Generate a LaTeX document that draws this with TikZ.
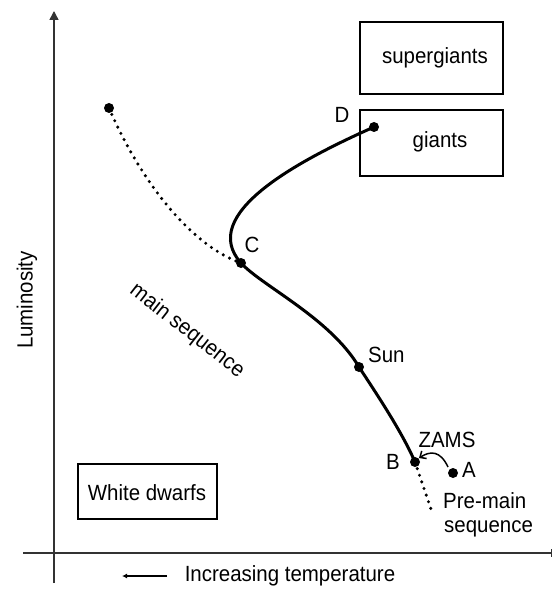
\documentclass[tikz,border=0pt]{standalone}
\usepackage{fontspec}
\setmainfont[FakeStretch=0.93]{Liberation Sans}
\usetikzlibrary{arrows.meta}
\tikzset{
  lbl/.style={inner sep=0pt, font=\fontsize{22}{25}\selectfont},
  boxed/.style={draw, line width=1.4pt},
  axisline/.style={line width=1.5pt, draw=black!80},
  track/.style={line width=3pt, line cap=round},
  dotted track/.style={line width=3.4pt, line cap=round, dash pattern=on 0pt off 7pt},
  stardot/.style={fill=black},
}
\begin{document}
\begin{tikzpicture}[x=1pt,y=-1pt]
\useasboundingbox (0,0) rectangle (553,596);
% axes
\coordinate (ybot) at (54,583);
\coordinate (ytop) at (54,11);
\coordinate (xleft) at (23,553);
\coordinate (xright) at (552,553);
\draw[axisline, -{Triangle[length=9pt,width=9pt]}] (ybot) -- (ytop);
\draw[axisline, -{Bar[width=8pt]}] (xleft) -- (xright);
% axis labels
\node[lbl, rotate=90] (lum) at (27,300) {Luminosity};
\node[lbl] (temp) at (290,576) {Increasing temperature};
\coordinate (ta) at (167,576);
\coordinate (tb) at (122,576);
\draw[line width=1.2pt, -{Latex[length=5pt,width=5pt]}] (ta) -- (tb);
% boxes
\node[boxed, minimum width=143pt, minimum height=72pt] (sgbox) at (431.5,58) {};
\node[lbl] (sg) at (435,58) {supergiants};
\node[boxed, minimum width=143pt, minimum height=66pt] (gbox) at (431.5,143) {};
\node[lbl] (g) at (440,142) {giants};
\node[boxed, minimum width=139pt, minimum height=55pt] (wdbox) at (147.5,491.5) {};
\node[lbl] (wd) at (147,493) {White dwarfs};
% points
\coordinate (start) at (109,108);
\coordinate (C) at (241,263);
\coordinate (D) at (374,127);
\coordinate (Sun) at (359,367);
\coordinate (B) at (415,462);
\coordinate (A) at (453,473);
\coordinate (tail) at (432,512);
% main sequence dotted
\draw[dotted track] (start) .. controls (140,180) and (190,245) .. (C);
\draw[dotted track] (B) -- (tail);
% evolutionary track
\draw[track] (D) .. controls (295,162) and (198,215) .. (C)
  .. controls (262,286) and (330,318) .. (Sun)
  .. controls (378,396) and (402,432) .. (B);
% ZAMS arrow
\draw[line width=1.5pt, -{Straight Barb[length=5pt,width=9pt]}] (A) ++(-5,-6) .. controls (440,450) and (430,451) .. (419,458);
% dots
\foreach \p in {start,C,D,Sun,B,A} \fill[stardot] (\p) circle (5);
% labels
\node[lbl] (Clbl) at (252,245) {C};
\node[lbl] (Dlbl) at (342,115) {D};
\node[lbl, anchor=west] (Sunlbl) at (368,355) {Sun};
\node[lbl] (Blbl) at (393,462) {B};
\node[lbl] (Albl) at (469,470) {A};
\node[lbl] (zams) at (447,440) {ZAMS};
\node[lbl, anchor=base west] (pre1) at (443,508) {Pre-main};
\node[lbl, anchor=base west] (pre2) at (444,532) {sequence};
\node[lbl, rotate=-38] (ms) at (187,331) {main sequence};
\end{tikzpicture}
\end{document}
